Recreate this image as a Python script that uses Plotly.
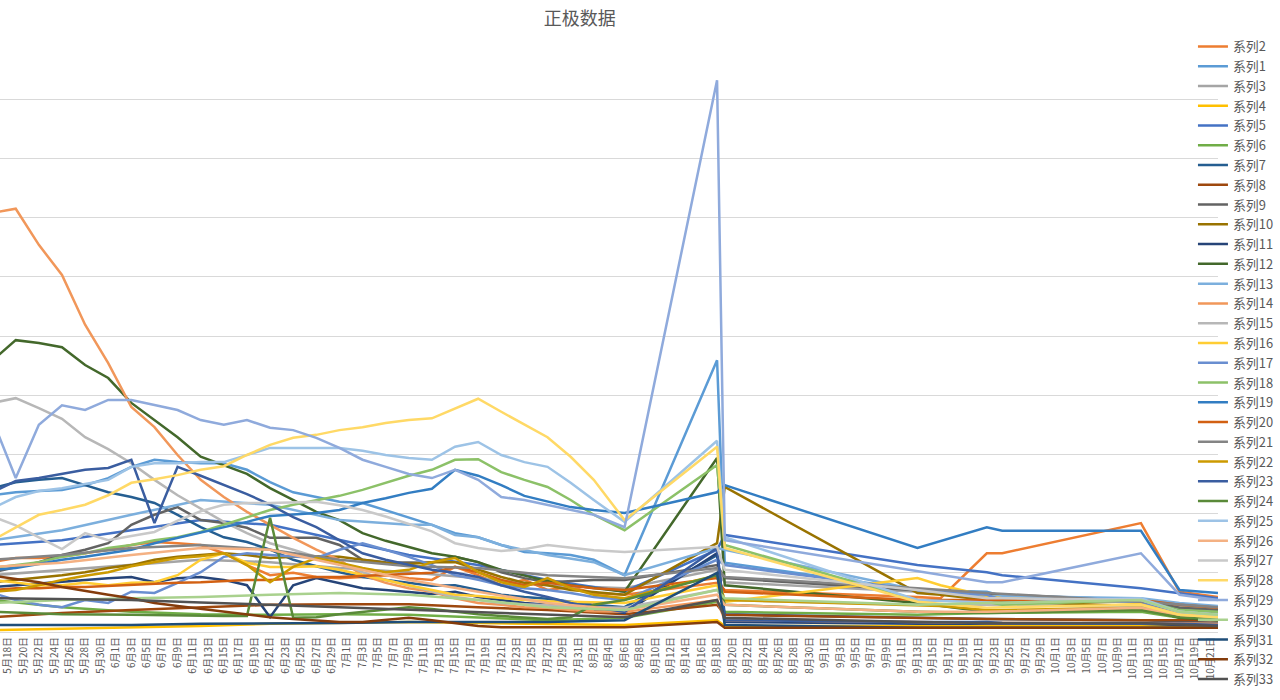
import plotly.graph_objects as go

N = None

dates = ["2017-05-16", "2017-05-19", "2017-05-22", "2017-05-25", "2017-05-28", "2017-05-31",
         "2017-06-03", "2017-06-06", "2017-06-09", "2017-06-12", "2017-06-15", "2017-06-18",
         "2017-06-21", "2017-06-24", "2017-06-27", "2017-06-30", "2017-07-03", "2017-07-06",
         "2017-07-09", "2017-07-12", "2017-07-15", "2017-07-18", "2017-07-21", "2017-07-24",
         "2017-07-27", "2017-07-30", "2017-08-02", "2017-08-06", "2017-08-18", "2017-08-19",
         "2017-09-13", "2017-09-16", "2017-09-22", "2017-09-24", "2017-10-12", "2017-10-17",
         "2017-10-22"]

series_names = ["系列2", "系列1", "系列3", "系列4", "系列5", "系列6", "系列7", "系列8", "系列9",
                "系列10", "系列11", "系列12", "系列13", "系列14", "系列15", "系列16", "系列17",
                "系列18", "系列19", "系列20", "系列21", "系列22", "系列23", "系列24", "系列25",
                "系列26", "系列27", "系列28", "系列29", "系列30", "系列31", "系列32", "系列33"]

colors = ["#ED7D31", "#5B9BD5", "#A5A5A5", "#FFC000", "#4472C4", "#70AD47", "#255E91", "#9E480E",
          "#636363", "#997300", "#264478", "#43682B", "#7CAFDD", "#F1975A", "#B7B7B7", "#FFCD33",
          "#698ED0", "#8CC168", "#327DC2", "#D26012", "#848484", "#CC9A00", "#3A5DA0", "#5A8A39",
          "#9DC3E6", "#F4B183", "#C9C9C9", "#FFD966", "#8FAADC", "#A9D18E", "#1F4E79", "#843C0C",
          "#525252"]

s2 = [1.18, 1.25, 1.25, 1.27, 1.33, 1.39, 1.47, 1.52, 1.50, 1.47, 1.33, 1.13, 0.96, 1.00, 0.93, 0.91,
      0.93, 0.96, 0.91, 0.88, 1.10, 0.96, 0.79, 0.88, 0.71, 0.76, 0.66, 0.63, 0.83, 0.71, 0.59, 0.57,
      1.33, 1.33, 1.84, 0.68, 0.59]
s1 = [2.31, 2.36, 2.38, 2.40, 2.48, 2.60, 2.79, 2.91, 2.87, 2.85, 2.85, 2.74, 2.53, 2.36, 2.28, 2.20,
      2.18, 2.06, 1.93, 1.81, 1.67, 1.60, 1.47, 1.35, 1.33, 1.30, 1.22, 0.96, 4.59, 1.17, 0.71, N,
      0.68, 0.61, 0.54, 0.41, 0.37]
s3 = [0.96, N, N, 1.05, N, N, 1.13, N, N, 1.22, N, N, 1.18, N, N, 1.08, N, N, 1.01, N, N, 0.91, N, N,
      0.79, N, N, 0.74, 1.05, 0.84, 0.68, N, 0.61, N, 0.54, 0.44, 0.41]
s4 = [0.03, N, N, 0.05, N, N, 0.08, N, N, 0.10, N, N, 0.14, N, N, 0.15, N, N, 0.17, N, N, 0.15, N, N,
      0.14, N, N, 0.12, 0.20, 0.10, 0.10, N, N, N, N, N, 0.10]
s5 = [1.47, N, N, 1.55, N, N, 1.72, N, N, 1.89, N, N, 1.81, N, N, 1.55, N, N, 1.30, N, N, 1.13, N, N,
      0.88, N, N, 0.68, 1.39, 1.64, 1.13, N, 1.01, 0.96, 0.74, 0.66, 0.57]
s6 = [0.54, N, N, 0.42, N, N, 0.34, N, N, 0.30, N, N, 0.29, N, N, 0.30, N, N, 0.29, N, N, 0.24, N, N,
      0.20, N, N, 0.24, 0.51, 0.34, 0.29, N, 0.32, N, 0.34, 0.24, 0.20]
s7 = [2.43, 2.53, 2.57, 2.60, 2.48, 2.36, 2.28, 2.18, 1.98, 1.77, 1.60, 1.52, 1.39, 1.22, 1.11, 1.01,
      0.93, 0.88, 0.83, 0.78, 0.79, 0.71, 0.63, 0.59, 0.56, 0.51, 0.46, 0.42, 1.30, 0.30, 0.24, N,
      0.22, N, 0.20, 0.17, 0.15]
s8 = [0.25, N, N, 0.32, N, N, 0.37, N, N, 0.42, N, N, 0.46, N, N, 0.47, N, N, 0.47, N, N, 0.42, N, N,
      0.37, N, N, 0.30, 0.46, 0.29, 0.24, N, 0.22, N, 0.20, 0.20, 0.20]
s9 = [1.01, 1.10, 1.18, 1.30, 1.39, 1.50, 1.81, 1.98, 2.11, 1.89, 1.84, 1.76, 1.59, 1.59, 1.59, 1.47,
      1.22, 1.18, 1.17, 1.17, 1.27, 1.18, 1.01, 0.91, 0.84, 0.86, 0.88, 0.88, 1.13, 0.91, 0.71, N,
      0.63, 0.63, 0.54, 0.41, 0.37]
s10 = [0.84, 0.88, 0.91, 0.96, 1.01, 1.08, 1.13, 1.22, 1.27, 1.30, 1.33, 1.30, 1.25, 1.27, 1.28, 1.27,
       1.22, 1.17, 1.15, 1.18, 1.18, 1.05, 0.93, 0.83, 0.79, 0.71, 0.68, 0.63, 1.50, 2.45, 0.66, 0.63,
       0.54, 0.51, 0.44, 0.34, 0.30]
s11 = [0.76, 0.79, 0.83, 0.86, 0.88, 0.91, 0.93, 0.84, 0.91, 0.93, 0.88, 0.79, 0.25, 0.79, 0.91, 0.83,
       0.74, 0.71, 0.68, 0.64, 0.68, 0.59, 0.54, 0.49, 0.46, 0.42, 0.37, 0.32, 1.33, 0.17, 0.14, N,
       0.14, N, 0.14, 0.12, 0.12]
s12 = [4.59, 4.93, 4.88, 4.81, 4.51, 4.29, 3.87, 3.58, 3.29, 2.96, 2.82, 2.67, 2.43, 2.23, 2.03, 1.89,
       1.67, 1.54, 1.44, 1.33, 1.27, 1.18, 1.05, 0.95, 0.86, 0.79, 0.74, 0.68, 2.94, 0.79, 0.49, N,
       0.34, 0.34, 0.41, 0.24, 0.20]
s13 = [1.55, N, N, 1.72, N, N, 1.98, N, N, 2.23, N, N, 2.15, N, N, 1.89, N, N, 1.81, 1.81, 1.64, 1.60,
       1.47, N, 1.30, N, 1.18, 0.96, 1.42, 1.39, 0.71, N, 0.61, N, 0.57, 0.49, 0.44]
s14 = [7.08, 7.15, 6.54, 6.03, 5.19, 4.54, 3.80, 3.46, 2.99, 2.57, 2.28, 2.03, 1.81, 1.59, 1.39, 1.22,
       0.96, 0.83, 0.74, 0.68, 0.57, 0.49, 0.46, 0.42, 0.41, 0.37, 0.35, 0.34, 0.54, 0.20, 0.17, N,
       0.15, N, 0.15, 0.14, 0.14]
s15 = [3.87, 3.95, 3.78, 3.60, 3.29, 3.09, 2.85, 2.57, 2.31, 2.09, 1.86, 1.67, 1.50, 1.39, 1.27, 1.18,
       1.01, 0.88, 0.78, 0.68, 0.59, 0.54, 0.49, 0.47, 0.45, 0.44, 0.42, 0.41, 0.71, 0.54, 0.46, N,
       0.46, N, 0.42, 0.34, 0.32]
s16 = [0.88, 0.84, 0.79, 0.79, 0.83, 0.79, 0.83, 0.84, 0.96, 1.22, 1.33, 1.17, 1.10, 1.10, 1.11, 1.05,
       0.96, 0.88, 0.79, 0.71, 0.63, 0.61, 0.57, 0.54, 0.52, 0.51, 0.50, 0.49, 0.79, 0.51, 0.91, 0.79,
       0.61, 0.57, 0.49, 0.34, 0.30]
s17 = [0.66, 0.54, 0.46, 0.42, 0.54, 0.49, 0.68, 0.66, 0.83, 1.01, 1.27, 1.33, 1.30, 1.27, 1.25, 1.39,
       1.50, 1.39, 1.27, 1.13, 0.96, 0.88, 0.79, 0.74, 0.71, 0.66, 0.59, 0.54, 1.22, 1.13, 0.71, N,
       0.63, 0.54, 0.51, 0.34, 0.30]
s18 = [1.08, 1.13, 1.18, 1.27, 1.33, 1.42, 1.47, 1.55, 1.60, 1.69, 1.81, 1.93, 2.06, 2.15, 2.23, 2.30,
       2.40, 2.52, 2.64, 2.74, 2.91, 2.92, 2.70, 2.57, 2.45, 2.23, 1.98, 1.72, 2.82, 1.47, 0.54, N,
       0.51, 0.46, 0.54, 0.37, 0.34]
s19 = [1.05, 1.08, 1.15, 1.22, 1.27, 1.33, 1.39, 1.50, 1.59, 1.67, 1.77, 1.86, 1.96, 1.99, 2.01, 2.06,
       2.18, 2.26, 2.35, 2.42, 2.74, 2.64, 2.48, 2.30, 2.20, 2.11, 2.06, 2.01, 2.36, 2.48, 1.42, N,
       1.77, 1.71, 1.71, 0.71, 0.66]
s20 = [0.71, 0.74, 0.74, 0.76, 0.76, 0.78, 0.79, 0.81, 0.83, 0.84, 0.86, 0.88, 0.88, 0.91, 0.93, 0.93,
       0.95, 0.96, 0.98, 1.00, 1.10, 1.01, 0.88, 0.79, 0.83, 0.79, 0.74, 0.71, 0.91, 0.68, 0.54, N,
       0.54, 0.54, 0.54, 0.46, 0.41]
s21 = [1.22, N, N, 1.30, N, N, 1.42, N, N, 1.47, N, N, 1.39, N, N, 1.22, N, N, 1.11, N, N, 1.08, N, N,
       0.96, N, N, 0.91, 1.08, 0.93, 0.74, N, 0.66, N, 0.51, 0.46, 0.42]
s22 = [0.68, 0.71, 0.79, 0.88, 0.95, 1.01, 1.11, 1.18, 1.25, 1.28, 1.33, 1.13, 0.84, 1.10, 1.25, 1.17,
       1.08, 1.01, 1.05, 1.18, 1.25, 1.01, 0.84, 0.76, 0.91, 0.74, 0.63, 0.57, 0.96, 0.54, 0.46, 0.44,
       0.37, 0.37, 0.41, 0.29, 0.25]
s23 = [2.36, 2.55, 2.60, 2.67, 2.74, 2.77, 2.91, 1.84, 2.79, 2.64, 2.48, 2.33, 2.15, 1.94, 1.77, 1.55,
       1.33, 1.22, 1.13, 1.05, 1.00, 0.93, 0.79, 0.68, 0.59, 0.49, 0.42, 0.34, 1.42, 0.20, 0.17, N,
       0.17, 0.15, 0.15, 0.14, 0.12]
s24 = [0.34, N, N, 0.30, N, N, 0.29, N, N, 0.27, 0.27, 0.27, 1.93, 0.24, 0.25, 0.30, 0.34, 0.37, 0.42,
       0.39, 0.34, 0.30, 0.27, 0.24, 0.22, 0.25, 0.46, 0.54, 0.96, 0.46, 0.34, N, 0.32, N, 0.37, 0.25,
       0.22]
s25 = [2.09, 2.28, 2.38, 2.43, 2.50, 2.57, 2.79, 2.85, 2.85, 2.87, 2.87, 2.99, 3.11, 3.11, 3.11, 3.11,
       3.06, 2.99, 2.94, 2.91, 3.13, 3.21, 2.99, 2.87, 2.79, 2.52, 2.23, 1.86, 3.23, 1.60, 0.54, N,
       0.49, 0.49, 0.57, 0.34, 0.29]
s26 = [1.10, N, N, 1.17, N, N, 1.30, N, N, 1.42, N, N, 1.39, N, N, 1.13, N, N, 0.88, N, N, 0.68, N, N,
       0.49, N, N, 0.37, 0.63, 0.46, 0.34, N, 0.34, N, 0.41, 0.29, 0.25]
s27 = [1.95, 1.80, 1.60, 1.40, 1.67, 1.55, 1.62, 1.69, 1.88, 2.04, 2.15, 2.18, 2.18, 2.19, 2.20, 2.14,
       2.06, 1.95, 1.82, 1.70, 1.50, 1.42, 1.37, 1.40, 1.47, 1.42, 1.38, 1.35, 1.44, 1.05, 0.71, N,
       0.57, 0.57, 0.54, 0.34, 0.29]
s28 = [1.55, 1.77, 1.98, 2.06, 2.15, 2.31, 2.52, 2.58, 2.65, 2.74, 2.80, 2.99, 3.16, 3.28, 3.33, 3.41,
       3.46, 3.53, 3.58, 3.61, 3.77, 3.94, 3.72, 3.50, 3.29, 2.96, 2.57, 1.89, 3.13, 1.42, 0.51, N,
       0.41, 0.42, 0.46, 0.29, 0.25]
s29 = [3.58, 2.60, 3.50, 3.83, 3.75, 3.92, 3.92, 3.83, 3.75, 3.58, 3.50, 3.58, 3.45, 3.41, 3.28, 3.11,
       2.91, 2.79, 2.67, 2.60, 2.74, 2.57, 2.28, 2.23, 2.15, 2.06, 1.98, 1.77, 9.32, 1.55, N, N,
       0.84, 0.84, 1.33, 0.63, 0.54]
s30 = [0.49, N, N, 0.54, N, N, 0.57, N, N, 0.59, N, N, 0.63, N, N, 0.66, N, N, 0.63, N, N, 0.54, N, N,
       0.42, N, N, 0.37, 0.71, 0.57, 0.46, N, 0.49, N, 0.54, 0.34, 0.29]
s31 = [0.12, N, N, 0.12, N, N, 0.12, N, N, 0.14, N, N, 0.14, N, N, 0.15, N, N, 0.17, N, N, 0.17, N, N,
       0.17, N, N, 0.20, 1.00, 0.12, 0.07, N, 0.07, N, 0.07, 0.07, 0.07]
s32 = [0.95, 0.90, 0.84, 0.76, 0.69, 0.63, 0.57, 0.49, 0.44, 0.39, 0.34, 0.29, 0.25, 0.22, 0.19, 0.17,
       0.17, 0.20, 0.24, 0.20, 0.15, 0.10, 0.08, 0.08, 0.08, 0.08, 0.08, 0.08, 0.17, 0.07, 0.07, N,
       0.07, N, 0.07, 0.07, 0.07]
s33 = [0.57, N, N, 0.56, N, N, 0.54, N, N, 0.50, N, N, 0.46, N, N, 0.42, N, N, 0.37, N, N, 0.33, N, N,
       0.29, N, N, 0.25, 0.54, 0.24, 0.17, N, 0.15, N, 0.15, 0.12, 0.10]

series_values = [s2, s1, s3, s4, s5, s6, s7, s8, s9, s10, s11, s12, s13, s14, s15, s16, s17, s18,
                 s19, s20, s21, s22, s23, s24, s25, s26, s27, s28, s29, s30, s31, s32, s33]

fig = go.Figure()
for name, vals, col in zip(series_names, series_values, colors):
    fig.add_trace(go.Scatter(x=dates, y=vals, name=name, mode="lines", connectgaps=True,
                             line=dict(color=col, width=2.5)))

font_family = "Noto Sans CJK SC, Noto Sans, sans-serif"
fig.update_layout(
    width=1280, height=700,
    paper_bgcolor="white", plot_bgcolor="white",
    margin=dict(l=0, r=62, t=40, b=68, autoexpand=False),
    title=dict(text="正极数据", x=0.453, xref="container", y=0.974, yref="container",
               xanchor="center", yanchor="middle", automargin=False,
               font=dict(family=font_family, size=18, color="#595959")),
    legend=dict(x=0.932, xref="container", y=0.955, yref="container", xanchor="left",
                yanchor="top", bgcolor="rgba(0,0,0,0)", itemwidth=30, maxheight=1,
                tracegroupgap=0,
                font=dict(family=font_family, size=12.9, color="#595959")),
    showlegend=True,
)
fig.update_xaxes(type="date", range=["2017-05-16 23:00", "2017-10-22 00:00"],
                 tick0="2017-05-18", dtick=172800000, tickformat="%-m月%-d日",
                 tickangle=-90, showgrid=False, showline=True, linecolor="#d9d9d9",
                 ticks="", ticklabeloverflow="allow", automargin=False,
                 tickfont=dict(family=font_family, size=10, color="#595959"))
fig.update_yaxes(range=[0, 10], dtick=1, showticklabels=False, showgrid=True,
                 gridcolor="#d9d9d9", gridwidth=1, zeroline=False, automargin=False)

fig.write_html("out.html", config={"displayModeBar": False},
               post_script="document.body.style.margin='0px';document.body.style.padding='0px';")
